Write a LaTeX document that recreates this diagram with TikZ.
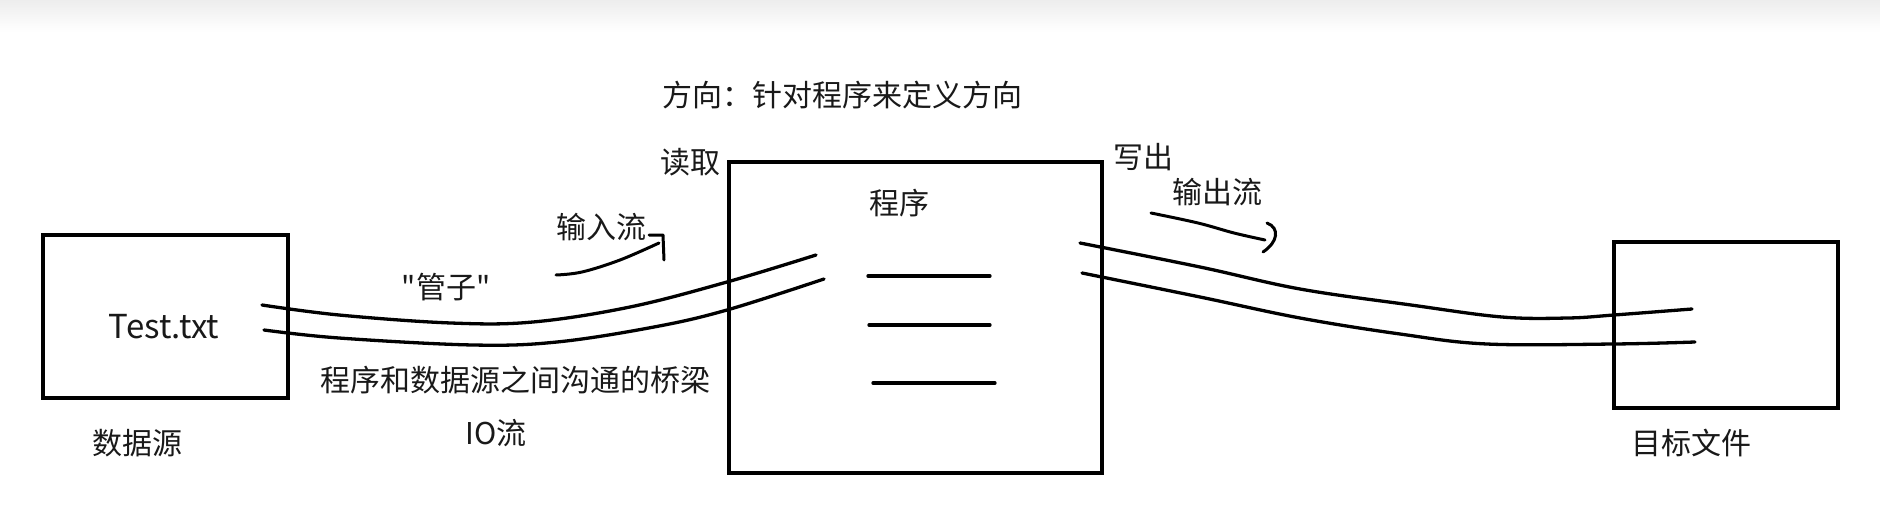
\documentclass[tikz,border=0pt]{standalone}
\usepackage{fontspec}
\setmainfont{Noto Sans CJK SC}
\setmonofont{Noto Sans CJK SC}
\begin{document}
\begin{tikzpicture}[x=1pt,y=-1pt,
  lw/.style={line width=3.3pt, line cap=round, line join=round},
  box/.style={draw, lw, line cap=butt, line join=miter, rectangle, inner sep=0pt},
  txt/.style={font=\fontsize{30}{36}\selectfont, inner sep=0pt, text=black!90},
  pipe/.style={lw}]
\useasboundingbox (0,0) rectangle (1880,508);
\fill[white] (0,0) rectangle (1880,508);
\shade[top color=black!7, bottom color=white] (0,0) rectangle (1880,32);

% boxes
\node[box, minimum width=245pt, minimum height=163pt] (src) at (165.5,316.5) {};
\node[box, minimum width=373pt, minimum height=311pt] (prog) at (915.5,317.5) {};
\node[box, minimum width=224pt, minimum height=166pt] (dst) at (1726,325) {};

% texts
\node[txt, font=\fontsize{33}{38}\selectfont] (testtxt) at (164,327) {Test.txt};
\node[txt] (srclabel) at (137,443) {数据源};
\node[txt] (pipelabel) at (446,287) {{\ttfamily"}管子{\ttfamily"}};
\node[txt] (inlabel) at (601,227) {输入流};
\node[txt] (bridge) at (515,380) {程序和数据源之间沟通的桥梁};
\node[txt] (io) at (496,433) {IO流};
\node[txt, anchor=west] (dir) at (662,95) {方向：针对程序来定义方向};
\node[txt] (read) at (690,162) {读取};
\node[txt] (progtxt) at (899,203) {程序};
\node[txt] (write) at (1143,157) {写出};
\node[txt] (outlabel) at (1217,192) {输出流};
\node[txt] (dstlabel) at (1691,443) {目标文件};

% program lines
\draw[lw] (868,276) -- (990,276);
\draw[lw] (869,325) -- (990,325);
\draw[lw] (873,383) -- (995,383);

% left pipe
\draw[pipe] plot[smooth, tension=0.6] coordinates {(262,305) (339,315) (451,323) (533,322) (630,307) (727,282) (816,255)};
\draw[pipe] plot[smooth, tension=0.6] coordinates {(264,330) (339,338) (473,345) (557,342) (654,327) (727,310) (824,279)};

% right pipe
\draw[pipe] plot[smooth, tension=0.6] coordinates {(1080,243) (1200,267) (1300,289) (1411,305) (1502,317) (1568,318) (1614,315) (1692,309)};
\draw[pipe] plot[smooth, tension=0.6] coordinates {(1082,273) (1200,297) (1300,318) (1400,334) (1487,344) (1614,344) (1695,342)};

% input arrow
\draw[lw, line width=3pt] plot[smooth, tension=0.6] coordinates {(556,275) (582,272) (620,260) (659,243)};
\draw[lw, line width=3pt] (649,235) -- (663,235) -- (664,260);

% output arrow
\draw[lw, line width=3pt] plot[smooth, tension=0.6] coordinates {(1151,213) (1198,223) (1234,233) (1265,240)};
\draw[lw, line width=3pt] (1267,223) .. controls (1280,228) and (1278,242) .. (1263,252);
\end{tikzpicture}
\end{document}
